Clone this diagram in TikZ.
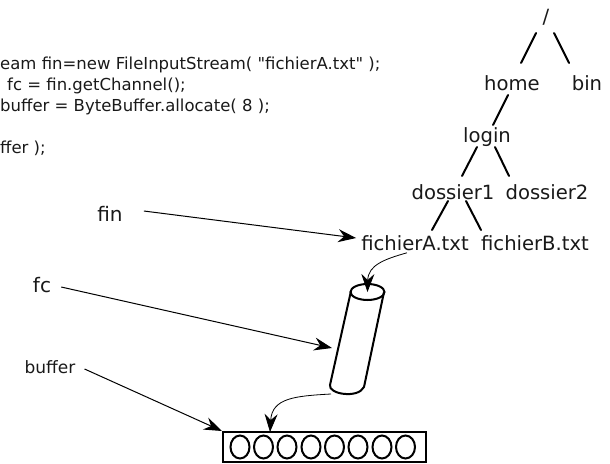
\documentclass[tikz,border=0pt]{standalone}
\usepackage{fontspec}
\setmainfont{DejaVu Sans}[Ligatures=TeXOff]
\usetikzlibrary{arrows.meta,calc,shapes.geometric}
\tikzset{
  tree/.style={font=\fontsize{19.6}{22}\selectfont,inner sep=0pt,text=black!90},
  code/.style={font=\fontsize{16.5}{18}\selectfont,inner sep=0pt,anchor=base west,text=black!90},
  lab/.style={inner sep=0pt,text=black!90},
  edge/.style={line width=2pt,line cap=round},
  ptr/.style={line width=1pt,-{Stealth[length=18pt,width=13pt,inset=6pt]}},
  tube/.style={line width=2pt},
}
\begin{document}
\begin{tikzpicture}[x=1pt,y=-1pt]
\useasboundingbox (0,0) rectangle (610,463);
% code
\node[code] (c1) at (0,69) {eam fin=new FileInputStream( "fichierA.txt" );};
\node[code] (c2) at (7,90) {fc = fin.getChannel();};
\node[code] (c3) at (0,111) {buffer = ByteBuffer.allocate( 8 );};
\node[code] (c4) at (0,153) {ffer );};
% tree
\node[tree] (root) at (546,17) {/};
\node[tree] (home) at (512,83) {home};
\node[tree] (bin) at (587,83) {bin};
\node[tree] (login) at (487,137) {login};
\node[tree] (d1) at (453,192) {dossier1};
\node[tree] (d2) at (547,192) {dossier2};
\node[tree] (fa) at (415,243) {fichierA.txt};
\node[tree] (fb) at (535,243) {fichierB.txt};
\draw[edge] ($(root)+(-10,16)$) -- ($(home)+(9,-20)$);
\draw[edge] ($(root)+(8,16)$) -- ($(bin)+(-18,-20)$);
\draw[edge] ($(home)+(-4,12)$) -- ($(login)+(6,-12)$);
\draw[edge] ($(login)+(-10,10)$) -- ($(d1)+(9,-16)$);
\draw[edge] ($(login)+(8,10)$) -- ($(d2)+(-38,-16)$);
\draw[edge] ($(d1)+(-5,9)$) -- ($(fa)+(17,-13)$);
\draw[edge] ($(d1)+(13,9)$) -- ($(fb)+(-54,-13)$);
% labels
\node[lab,font=\fontsize{20}{22}\selectfont] (fin) at (110,214) {fin};
\node[lab,font=\fontsize{20}{22}\selectfont] (fc) at (42,285) {fc};
\node[lab,font=\fontsize{17}{20}\selectfont] (buffer) at (50,367) {buffer};
% cylinder
\coordinate (cyltop) at (367.5,292);
\coordinate (cyltl) at (351,291);
\coordinate (cyltr) at (384,292);
\coordinate (cylbl) at (330,385);
\coordinate (cylbr) at (364,387);
\coordinate (cylleft) at (332,348);
\coordinate (cylout) at (331,394);
\draw[tube] (367.5,292) ellipse [x radius=17,y radius=8];
\draw[tube] (cyltl) -- (cylbl) .. controls (328,394) and (358,399) .. (cylbr) -- (cyltr);
% buffer
\node[draw,line width=2pt,minimum width=203pt,minimum height=30pt,inner sep=0pt] (buf) at (324.5,447) {};
\foreach \i/\x in {1/240,2/263.5,3/287,4/311,5/334.5,6/358,7/382,8/405.5}
  \node[draw,ellipse,line width=2pt,minimum width=19pt,minimum height=23pt,inner sep=0pt] (o\i) at (\x,447) {};
% pointers
\draw[ptr] ($(fin.east)+(21,-3)$) -- ($(fa.west)+(-5,-5)$);
\draw[ptr] ($(fc.east)+(10,2)$) -- (cylleft);
\draw[ptr] ($(buffer.east)+(9,2)$) -- (buf.north west);
\draw[ptr,line width=0.8pt] ($(fa.south)+(-8,2)$) .. controls (385,259) and (368,265) .. (cyltop);
\draw[ptr,line width=0.8pt] (cylout) .. controls (295,396) and (272,398) .. (270,432);
\end{tikzpicture}
\end{document}
